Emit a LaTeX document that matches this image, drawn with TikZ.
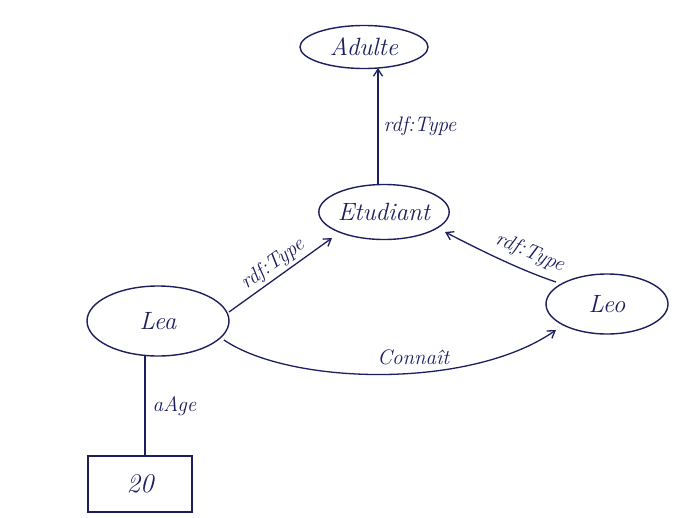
\documentclass[tikz,border=0pt]{standalone}
\usetikzlibrary{shapes.geometric,arrows.meta}
\definecolor{ink}{HTML}{1C1F5E}
\begin{document}
\begin{tikzpicture}[x=1pt,y=-1pt,
  res/.style={ellipse,draw=ink,line width=1.4pt,inner sep=0pt,font=\fontsize{25}{28}\selectfont\itshape,text=ink},
  lit/.style={rectangle,draw=ink,line width=1.6pt,font=\fontsize{27}{30}\selectfont\itshape,text=ink},
  edge/.style={draw=ink,line width=1.3pt,-{Straight Barb[length=7pt,width=9pt]}},
  plain/.style={draw=ink,line width=1.3pt},
  lbl/.style={font=\fontsize{21}{24}\selectfont\itshape,text=ink,inner sep=1pt}]
\useasboundingbox (0,0) rectangle (674,517);
\fill[white] (0,0) rectangle (674,517);
\node[res,minimum width=128pt,minimum height=43pt] (adulte) at (364,47) {Adulte};
\node[res,minimum width=122pt,minimum height=55pt] (etud) at (384,212) {Etudiant};
\node[res,minimum width=142pt,minimum height=70pt] (lea) at (158,321) {Lea};
\node[res,minimum width=122pt,minimum height=60pt] (leo) at (607,304) {Leo};
\node[lit,minimum width=104pt,minimum height=56pt] (v20) at (140,484) {20};
\coordinate (eTop) at (378,185);
\coordinate (aBot) at (378,68);
\draw[edge] (eTop) -- node[lbl,right=4pt] {rdf:Type} (aBot);
\coordinate (lA) at (229,312);
\coordinate (eSW) at (332,238);
\draw[edge] (lA) -- node[lbl,sloped,above=2pt] {rdf:Type} (eSW);
\coordinate (leoW) at (556,282);
\coordinate (eSE) at (445,232);
\draw[edge] (leoW) .. controls (520,270) and (480,250) .. node[lbl,sloped,above=7pt,pos=0.3] {rdf:Type} (eSE);
\coordinate (lB) at (224,340);
\coordinate (leoSW) at (556,330);
\draw[edge] (lB) .. controls (290,385) and (470,390) .. node[lbl,above=6pt,pos=0.58] {Connaît} (leoSW);
\coordinate (lBot) at (145,356);
\coordinate (vTop) at (145,456);
\draw[plain] (lBot) -- node[lbl,right=6pt] {aAge} (vTop);
\end{tikzpicture}
\end{document}
